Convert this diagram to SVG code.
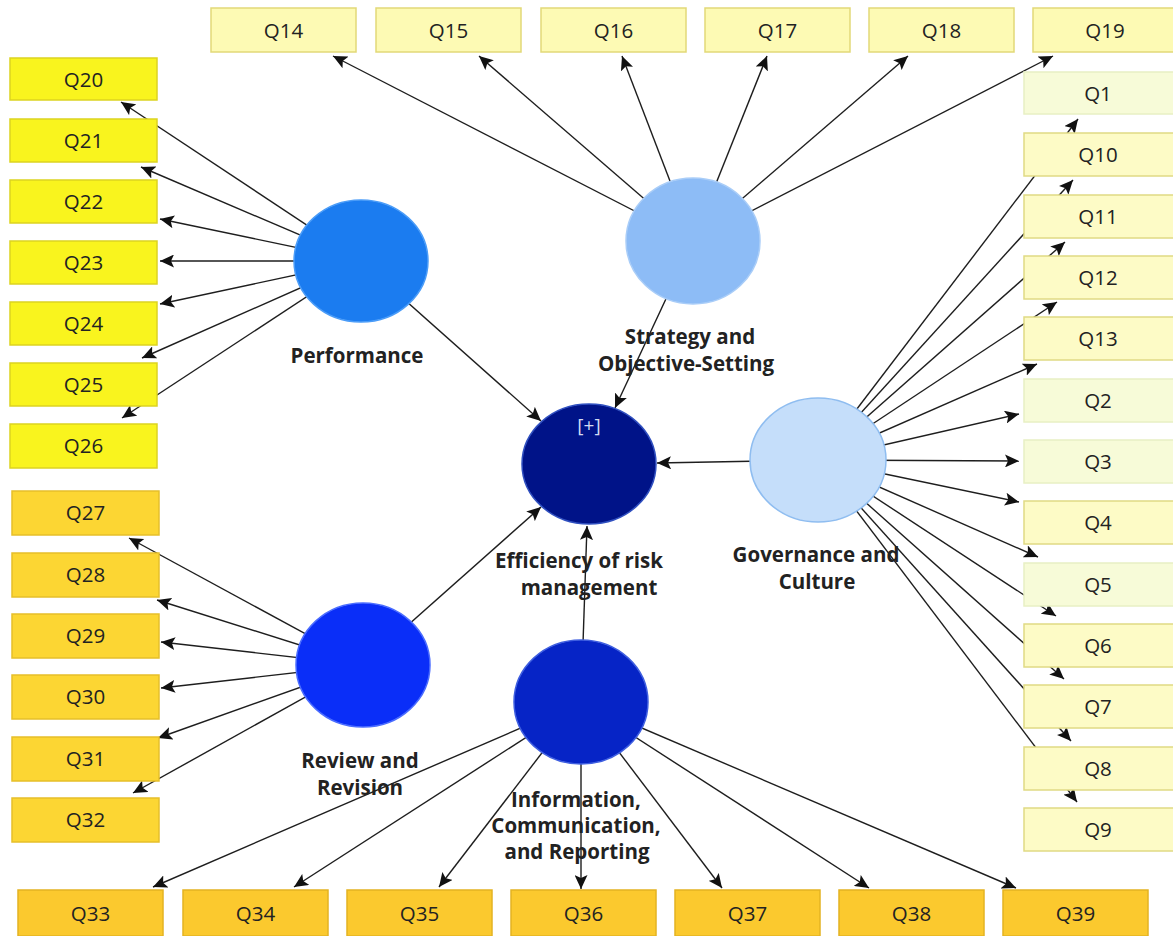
<svg xmlns="http://www.w3.org/2000/svg" width="1173" height="936" viewBox="0 0 1173 936">
  <defs>
    <marker id="arrow" markerUnits="userSpaceOnUse" markerWidth="15" markerHeight="13" refX="14" refY="6.5" orient="auto">
      <path d="M0,0 L14,6.5 L0,13 L3,6.5 z" fill="#111"/>
    </marker>
    <style>
      .link { stroke: #1e1e1e; stroke-width: 1.4; fill: none; marker-end: url(#arrow); }
      .ind text { font-family: "Open Sans", "Noto Sans", sans-serif; font-size: 20.5px; fill: #222; text-anchor: middle; }
      .top rect { fill: #fdfab4; stroke: #e2d978; stroke-width: 1.5; }
      .perf rect { fill: #f9f41e; stroke: #dcd320; stroke-width: 1.5; }
      .rev rect { fill: #fcd633; stroke: #e6bf2a; stroke-width: 1.5; }
      .bot rect { fill: #fbc92e; stroke: #e4b322; stroke-width: 1.5; }
      .gov rect { fill: #fdfbc6; stroke: #e0da84; stroke-width: 1.5; }
      .gov.pale rect { fill: #f7fbd8; stroke: #e8f0c4; }
      .lat text { font-family: "Open Sans", "Noto Sans", sans-serif; font-size: 20.5px; font-weight: 700; fill: #222; text-anchor: middle; }
    </style>
  </defs>

  <rect width="1173" height="936" fill="#ffffff"/>

  <!-- connectors: each path runs from the latent centre to the arrow tip -->
  <g id="connectors">
    <!-- Performance -> Q20..Q26 -->
    <line class="link" x1="361" y1="261" x2="121" y2="102"/>
    <line class="link" x1="361" y1="261" x2="141" y2="167"/>
    <line class="link" x1="361" y1="261" x2="160" y2="219"/>
    <line class="link" x1="361" y1="261" x2="160" y2="261"/>
    <line class="link" x1="361" y1="261" x2="160" y2="304"/>
    <line class="link" x1="361" y1="261" x2="142" y2="358"/>
    <line class="link" x1="361" y1="261" x2="122" y2="418"/>
    <!-- Strategy -> Q14..Q19 -->
    <line class="link" x1="693" y1="241" x2="333" y2="56"/>
    <line class="link" x1="693" y1="241" x2="479" y2="56"/>
    <line class="link" x1="693" y1="241" x2="622" y2="56"/>
    <line class="link" x1="693" y1="241" x2="767" y2="56"/>
    <line class="link" x1="693" y1="241" x2="908" y2="56"/>
    <line class="link" x1="693" y1="241" x2="1053" y2="56"/>
    <!-- Governance -> Q1..Q13 -->
    <line class="link" x1="818" y1="460" x2="1078" y2="119"/>
    <line class="link" x1="818" y1="460" x2="1073" y2="180"/>
    <line class="link" x1="818" y1="460" x2="1065" y2="242"/>
    <line class="link" x1="818" y1="460" x2="1057" y2="302"/>
    <line class="link" x1="818" y1="460" x2="1037" y2="364"/>
    <line class="link" x1="818" y1="460" x2="1019" y2="414"/>
    <line class="link" x1="818" y1="460" x2="1019" y2="461"/>
    <line class="link" x1="818" y1="460" x2="1019" y2="502"/>
    <line class="link" x1="818" y1="460" x2="1038" y2="557"/>
    <line class="link" x1="818" y1="460" x2="1056" y2="616"/>
    <line class="link" x1="818" y1="460" x2="1064" y2="679"/>
    <line class="link" x1="818" y1="460" x2="1071" y2="741"/>
    <line class="link" x1="818" y1="460" x2="1077" y2="802"/>
    <!-- Review -> Q27..Q32 -->
    <line class="link" x1="363" y1="665" x2="129" y2="538"/>
    <line class="link" x1="363" y1="665" x2="157" y2="600"/>
    <line class="link" x1="363" y1="665" x2="161" y2="642"/>
    <line class="link" x1="363" y1="665" x2="161" y2="688"/>
    <line class="link" x1="363" y1="665" x2="158" y2="738"/>
    <line class="link" x1="363" y1="665" x2="133" y2="793"/>
    <!-- Information -> Q33..Q39 -->
    <line class="link" x1="581" y1="702" x2="153" y2="887"/>
    <line class="link" x1="581" y1="702" x2="294" y2="887"/>
    <line class="link" x1="581" y1="702" x2="439" y2="887"/>
    <line class="link" x1="581" y1="702" x2="581" y2="889"/>
    <line class="link" x1="581" y1="702" x2="722" y2="888"/>
    <line class="link" x1="581" y1="702" x2="869" y2="888"/>
    <line class="link" x1="581" y1="702" x2="1016" y2="888"/>
    <!-- structural paths into the outcome -->
    <line class="link" x1="361" y1="261" x2="541" y2="421"/>
    <line class="link" x1="693" y1="241" x2="615" y2="408"/>
    <line class="link" x1="818" y1="460" x2="657" y2="463"/>
    <line class="link" x1="363" y1="665" x2="541" y2="507"/>
    <line class="link" x1="581" y1="702" x2="587" y2="526"/>
  </g>

  <!-- indicators: top row (Strategy) -->
  <g id="Q14" class="ind top"><rect x="211" y="8" width="145" height="44"/><text x="283.5" y="37.5">Q14</text></g>
  <g id="Q15" class="ind top"><rect x="376" y="8" width="145" height="44"/><text x="448.5" y="37.5">Q15</text></g>
  <g id="Q16" class="ind top"><rect x="541" y="8" width="145" height="44"/><text x="613.5" y="37.5">Q16</text></g>
  <g id="Q17" class="ind top"><rect x="705" y="8" width="145" height="44"/><text x="777.5" y="37.5">Q17</text></g>
  <g id="Q18" class="ind top"><rect x="869" y="8" width="145" height="44"/><text x="941.5" y="37.5">Q18</text></g>
  <g id="Q19" class="ind top"><rect x="1033" y="8" width="142" height="44"/><text x="1105" y="37.5">Q19</text></g>

  <!-- indicators: left column (Performance) -->
  <g id="Q20" class="ind perf"><rect x="10" y="58" width="147" height="42"/><text x="83.5" y="86.5">Q20</text></g>
  <g id="Q21" class="ind perf"><rect x="10" y="119" width="147" height="43"/><text x="83.5" y="147.5">Q21</text></g>
  <g id="Q22" class="ind perf"><rect x="10" y="180" width="147" height="43"/><text x="83.5" y="208.5">Q22</text></g>
  <g id="Q23" class="ind perf"><rect x="10" y="241" width="147" height="43"/><text x="83.5" y="269.5">Q23</text></g>
  <g id="Q24" class="ind perf"><rect x="10" y="302" width="147" height="43"/><text x="83.5" y="330.5">Q24</text></g>
  <g id="Q25" class="ind perf"><rect x="10" y="363" width="147" height="43"/><text x="83.5" y="391.5">Q25</text></g>
  <g id="Q26" class="ind perf"><rect x="10" y="424" width="147" height="44"/><text x="83.5" y="452.5">Q26</text></g>

  <!-- indicators: left column (Review) -->
  <g id="Q27" class="ind rev"><rect x="12" y="491" width="147" height="44"/><text x="85.5" y="519.5">Q27</text></g>
  <g id="Q28" class="ind rev"><rect x="12" y="553" width="147" height="44"/><text x="85.5" y="581.5">Q28</text></g>
  <g id="Q29" class="ind rev"><rect x="12" y="614" width="147" height="44"/><text x="85.5" y="642.5">Q29</text></g>
  <g id="Q30" class="ind rev"><rect x="12" y="675" width="147" height="44"/><text x="85.5" y="703.5">Q30</text></g>
  <g id="Q31" class="ind rev"><rect x="12" y="737" width="147" height="44"/><text x="85.5" y="765.5">Q31</text></g>
  <g id="Q32" class="ind rev"><rect x="12" y="798" width="147" height="44"/><text x="85.5" y="826.5">Q32</text></g>

  <!-- indicators: right column (Governance) -->
  <g id="Q1" class="ind gov pale"><rect x="1024" y="72" width="151" height="42"/><text x="1098" y="100.5">Q1</text></g>
  <g id="Q10" class="ind gov"><rect x="1024" y="133" width="151" height="43"/><text x="1098" y="161.5">Q10</text></g>
  <g id="Q11" class="ind gov"><rect x="1024" y="195" width="151" height="43"/><text x="1098" y="223.5">Q11</text></g>
  <g id="Q12" class="ind gov"><rect x="1024" y="256" width="151" height="43"/><text x="1098" y="284.5">Q12</text></g>
  <g id="Q13" class="ind gov"><rect x="1024" y="317" width="151" height="43"/><text x="1098" y="345.5">Q13</text></g>
  <g id="Q2" class="ind gov pale"><rect x="1024" y="379" width="151" height="43"/><text x="1098" y="407.5">Q2</text></g>
  <g id="Q3" class="ind gov pale"><rect x="1024" y="440" width="151" height="43"/><text x="1098" y="468.5">Q3</text></g>
  <g id="Q4" class="ind gov"><rect x="1024" y="501" width="151" height="43"/><text x="1098" y="529.5">Q4</text></g>
  <g id="Q5" class="ind gov pale"><rect x="1024" y="563" width="151" height="43"/><text x="1098" y="591.5">Q5</text></g>
  <g id="Q6" class="ind gov"><rect x="1024" y="624" width="151" height="43"/><text x="1098" y="652.5">Q6</text></g>
  <g id="Q7" class="ind gov"><rect x="1024" y="685" width="151" height="43"/><text x="1098" y="713.5">Q7</text></g>
  <g id="Q8" class="ind gov"><rect x="1024" y="747" width="151" height="43"/><text x="1098" y="775.5">Q8</text></g>
  <g id="Q9" class="ind gov"><rect x="1024" y="808" width="151" height="43"/><text x="1098" y="836.5">Q9</text></g>

  <!-- indicators: bottom row (Information) -->
  <g id="Q33" class="ind bot"><rect x="18" y="890" width="145" height="46"/><text x="90.5" y="920.5">Q33</text></g>
  <g id="Q34" class="ind bot"><rect x="183" y="890" width="145" height="46"/><text x="255.5" y="920.5">Q34</text></g>
  <g id="Q35" class="ind bot"><rect x="347" y="890" width="145" height="46"/><text x="419.5" y="920.5">Q35</text></g>
  <g id="Q36" class="ind bot"><rect x="511" y="890" width="145" height="46"/><text x="583.5" y="920.5">Q36</text></g>
  <g id="Q37" class="ind bot"><rect x="675" y="890" width="145" height="46"/><text x="747.5" y="920.5">Q37</text></g>
  <g id="Q38" class="ind bot"><rect x="839" y="890" width="145" height="46"/><text x="911.5" y="920.5">Q38</text></g>
  <g id="Q39" class="ind bot"><rect x="1003" y="890" width="145" height="46"/><text x="1075.5" y="920.5">Q39</text></g>

  <!-- latent constructs -->
  <g id="performance" class="lat">
    <ellipse cx="361" cy="261" rx="67" ry="61" fill="#1b7cf0" stroke="#4a9cf8" stroke-width="1.5"/>
    <text x="357" y="363">Performance</text>
  </g>
  <g id="strategy" class="lat">
    <ellipse cx="693" cy="241" rx="67" ry="63" fill="#8dbcf6" stroke="#a9cdf8" stroke-width="1.5"/>
    <text x="690" y="344">Strategy and</text>
    <text x="686" y="371">Objective-Setting</text>
  </g>
  <g id="efficiency" class="lat">
    <ellipse cx="589" cy="464" rx="67" ry="60" fill="#001388" stroke="#3050c0" stroke-width="1.5"/>
    <text x="589" y="432" style="font-weight:400;font-size:19px;fill:#d4daf2">[+]</text>
    <text x="579" y="568">Efficiency of risk</text>
    <text x="589" y="595">management</text>
  </g>
  <g id="governance" class="lat">
    <ellipse cx="818" cy="460" rx="68" ry="62" fill="#c5defa" stroke="#8fbdf0" stroke-width="1.5"/>
    <text x="816" y="562">Governance and</text>
    <text x="817" y="589">Culture</text>
  </g>
  <g id="review" class="lat">
    <ellipse cx="363" cy="665" rx="67" ry="62" fill="#0a2ef8" stroke="#4a6cff" stroke-width="1.5"/>
    <text x="360" y="768">Review and</text>
    <text x="360" y="795">Revision</text>
  </g>
  <g id="information" class="lat">
    <ellipse cx="581" cy="702" rx="67" ry="62" fill="#0624c6" stroke="#3f5fe0" stroke-width="1.5"/>
    <text x="576" y="807">Information,</text>
    <text x="576" y="833">Communication,</text>
    <text x="577" y="859">and Reporting</text>
  </g>
</svg>
